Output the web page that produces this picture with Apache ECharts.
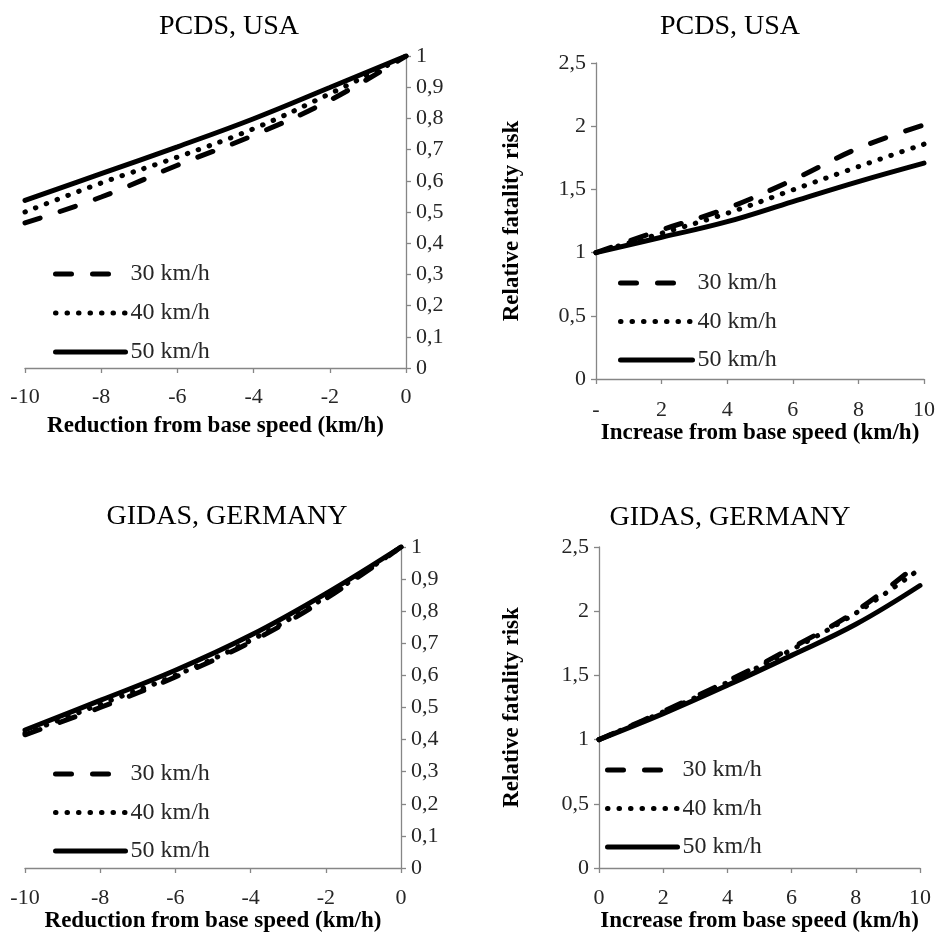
<!DOCTYPE html>
<html>
<head>
<meta charset="utf-8">
<script src="https://cdn.jsdelivr.net/npm/echarts@6/dist/echarts.min.js"></script>
<style>
html,body{margin:0;padding:0;background:#fff;}
#chart{width:939px;height:934px;}
</style>
</head>
<body>
<div id="chart"></div>
<script>
// ---- Data ----
const seriesNames = ['30 km/h', '40 km/h', '50 km/h'];
const panelTitles = ['PCDS, USA', 'PCDS, USA', 'GIDAS, GERMANY', 'GIDAS, GERMANY'];
const xNameReduction = 'Reduction from base speed (km/h)';
const xNameIncrease = 'Increase from base speed (km/h)';
const yNameRisk = 'Relative fatality risk';

const xReduction = [-10, -8, -6, -4, -2, 0];
const xIncrease = [0, 2, 4, 6, 8, 10];

const pcdsRed30 = [0.465, 0.548, 0.650, 0.746, 0.858, 1];
const pcdsRed40 = [0.500, 0.593, 0.676, 0.767, 0.879, 1];
const pcdsRed50 = [0.537, 0.623, 0.709, 0.799, 0.899, 1];

const pcdsInc30 = [1, 1.180, 1.351, 1.575, 1.826, 2.010];
const pcdsInc40 = [1, 1.153, 1.311, 1.496, 1.680, 1.858];
const pcdsInc50 = [1, 1.121, 1.245, 1.404, 1.562, 1.708];

const gidasRed30 = [0.415, 0.500, 0.595, 0.704, 0.839, 1];
const gidasRed40 = [0.420, 0.510, 0.600, 0.709, 0.844, 1];
const gidasRed50 = [0.430, 0.522, 0.616, 0.725, 0.855, 1];

const gidasInc30 = [1, 1.220, 1.455, 1.715, 2.000, 2.380];
const gidasInc40 = [1, 1.215, 1.445, 1.700, 1.985, 2.330];
const gidasInc50 = [1, 1.202, 1.423, 1.656, 1.898, 2.200];

// ---- Styles ----
const FONT = 'Liberation Serif';
const AX = '#868686';
const TXT = '#262626';
const lineStyles = [
  {color: '#000', width: 5, type: [16, 21], cap: 'round'},
  {color: '#000', width: 5, type: [0.5, 11], cap: 'round'},
  {color: '#000', width: 5, type: 'solid', cap: 'round'}
];

const grids = [
  {left: 25, top: 56, width: 381, height: 312},
  {left: 596, top: 63, width: 328, height: 316},
  {left: 25, top: 547, width: 376, height: 321},
  {left: 599, top: 547, width: 321, height: 321}
];

const comma = v => String(v).replace('.', ',');

function xAxisFor(i) {
  const isRed = (i % 2 === 0);
  const gaps = [47, 39, 41, 41];
  const margins = [18, 20, 19, 19];
  return {
    gridIndex: i, type: 'value',
    min: isRed ? -10 : 0, max: isRed ? 0 : 10, interval: 2,
    name: isRed ? xNameReduction : xNameIncrease,
    nameLocation: 'middle', nameGap: gaps[i],
    nameTextStyle: {fontFamily: FONT, fontSize: 23, fontWeight: 'bold', color: '#000'},
    axisLine: {show: true, onZero: false, lineStyle: {color: AX, width: 1.3}},
    axisTick: {show: true, length: 5, lineStyle: {color: AX, width: 1.3}},
    axisLabel: {
      fontFamily: FONT, fontSize: 22, color: TXT, margin: margins[i],
      formatter: v => (i === 1 && v === 0) ? '-' : String(v)
    },
    splitLine: {show: false}
  };
}

function yAxisFor(i) {
  const isRed = (i % 2 === 0);
  const a = {
    gridIndex: i, type: 'value',
    min: 0, max: isRed ? 1 : 2.5, interval: isRed ? 0.1 : 0.5,
    position: isRed ? 'right' : 'left',
    axisLine: {show: true, lineStyle: {color: AX, width: 1.3}},
    axisTick: {show: true, length: 5, lineStyle: {color: AX, width: 1.3}},
    axisLabel: {fontFamily: FONT, fontSize: 22, color: TXT, margin: 10, formatter: comma},
    splitLine: {show: false}
  };
  if (!isRed) {
    a.name = yNameRisk;
    a.nameLocation = 'middle';
    a.nameGap = (i === 1 ? 72 : 75);
    a.nameTextStyle = {fontFamily: FONT, fontSize: 23, fontWeight: 'bold', color: '#000'};
  }
  return a;
}

const panelData = [
  [xReduction, [pcdsRed30, pcdsRed40, pcdsRed50]],
  [xIncrease, [pcdsInc30, pcdsInc40, pcdsInc50]],
  [xReduction, [gidasRed30, gidasRed40, gidasRed50]],
  [xIncrease, [gidasInc30, gidasInc40, gidasInc50]]
];

const series = [];
panelData.forEach((p, gi) => {
  const xs = p[0];
  p[1].forEach((ys, si) => {
    series.push({
      type: 'line', name: seriesNames[si],
      xAxisIndex: gi, yAxisIndex: gi,
      data: xs.map((x, k) => [x, ys[k]]),
      smooth: 0.4, symbol: 'none', showSymbol: false,
      lineStyle: lineStyles[si],
      itemStyle: {color: '#000'},
      emphasis: {disabled: true},
      z: 3 - si
    });
  });
});

const titlePos = [[224, 8], [725, 8], [222, 498], [725, 499]];
const legendPos = [
  {left: 53, top: 261, itemWidth: 70, itemGap: 13},
  {left: 618, top: 270, itemWidth: 72, itemGap: 12.5},
  {left: 53, top: 761, itemWidth: 70, itemGap: 12.5},
  {left: 605, top: 757, itemWidth: 70, itemGap: 12.5}
];

const option = {
  backgroundColor: '#fff',
  animation: false,
  title: panelTitles.map((t, i) => ({
    text: t, left: titlePos[i][0], top: titlePos[i][1], textAlign: 'center',
    textStyle: {fontFamily: FONT, fontSize: 28, fontWeight: 'normal', color: '#000'}
  })),
  legend: legendPos.map(l => ({
    data: seriesNames, orient: 'vertical', left: l.left, top: l.top,
    itemWidth: l.itemWidth, itemHeight: 14, itemGap: l.itemGap,
    selectedMode: false, padding: 0,
    itemStyle: {opacity: 0},
    lineStyle: {width: 5, type: 'inherit', cap: 'inherit', color: 'inherit'},
    textStyle: {fontFamily: FONT, fontSize: 24, color: TXT, lineHeight: 26}
  })),
  grid: grids.map(g => Object.assign({containLabel: false}, g)),
  xAxis: [0, 1, 2, 3].map(xAxisFor),
  yAxis: [0, 1, 2, 3].map(yAxisFor),
  series: series
};

const chart = echarts.init(document.getElementById('chart'), null, {renderer: 'canvas'});
chart.setOption(option);
</script>
</body>
</html>
